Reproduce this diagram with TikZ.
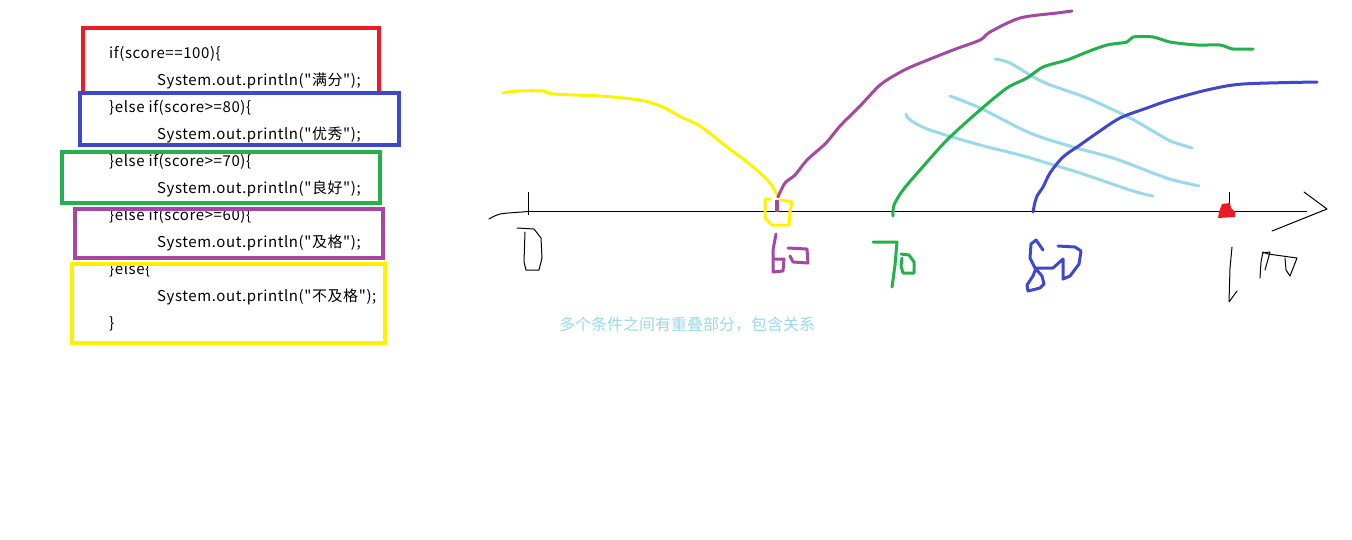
\documentclass[tikz,border=0pt]{standalone}
\usepackage{fontspec}
\newfontfamily\cjkfont{Noto Sans CJK SC}
\newfontfamily\codefont{Noto Sans CJK SC}[LetterSpace=4]
\definecolor{pred}{HTML}{ED1C24}
\definecolor{pblue}{HTML}{3F48CC}
\definecolor{pgreen}{HTML}{22B14C}
\definecolor{ppurple}{HTML}{A349A4}
\definecolor{pyellow}{HTML}{FFF200}
\definecolor{plight}{HTML}{99D9EA}
\tikzset{
  code/.style={anchor=base west, inner sep=0pt, font=\codefont\fontsize{15}{17}\selectfont},
  frame/.style={line width=4pt},
  pen/.style={line width=3pt, line join=round, line cap=round},
  thin/.style={line width=1pt, line join=round, line cap=round},
}
\begin{document}
\begin{tikzpicture}[x=1pt,y=-1pt]
\useasboundingbox (0,0) rectangle (1352,539);
% code text
\node[code] (l1) at (109,58) {if(score==100)\{};
\node[code] (l2) at (157,85) {System.out.println("满分");};
\node[code] (l3) at (109,112) {\}else if(score>=80)\{};
\node[code] (l4) at (157,139) {System.out.println("优秀");};
\node[code] (l5) at (109,166) {\}else if(score>=70)\{};
\node[code] (l6) at (157,193) {System.out.println("良好");};
\node[code] (l7) at (109,220) {\}else if(score>=60)\{};
\node[code] (l8) at (157,247) {System.out.println("及格");};
\node[code] (l9) at (109,274) {\}else\{};
\node[code] (l10) at (157,301) {System.out.println("不及格");};
\node[code] (l11) at (109,328) {\}};
% frames
\draw[frame, pred] (83,93) -- (83,28) -- (379,28) -- (379,93);
\draw[frame, pblue] (80,93) rectangle (399,145);
\draw[frame, pgreen] (62,152) rectangle (380,203);
\draw[frame, ppurple] (75,209) rectangle (383,258);
\draw[frame, pyellow] (72,264) rectangle (385,343);
% axis
\draw[thin] plot[smooth] coordinates {(489,219) (500,214) (522,212) (528,211.5)};
\draw[line width=1pt] (528,211.5) -- (1307,211.5);
\draw[thin] (1304,192) -- (1327,209) -- (1272,231);
\draw[line width=1pt] (528,192) -- (528,215);
\draw[line width=1pt] (1229,192) -- (1229,211);
\fill[pred] (1222,204) -- (1230,203) -- (1231,208) -- (1235,212) -- (1235,217) -- (1218,218) -- (1219,212) -- cycle;
% yellow selection around 60
\draw[pen, pyellow] (770,199) -- (765,199) -- (765,218) -- (772,225) -- (789,225) -- (790,212) -- (792,202) -- (781,200);
% purple mark at 60
\draw[line width=4pt, ppurple] (777,200) -- (777,212);
% curves
\draw[pen, pyellow] plot[smooth] coordinates {(503,93) (517,91) (543,91) (553,94) (600,96) (623,98) (645,101) (665,108) (681,117) (700,126) (727,147) (752,166) (770,183) (778,197)};
\draw[pen, ppurple] plot[smooth] coordinates {(778,197) (785,183) (795,175) (807,160) (826,143) (840,126) (860,106) (880,85) (897,74) (913,66) (953,50) (980,40) (990,32) (1020,18) (1057,13) (1072,11)};
\draw[pen, plight] plot[smooth] coordinates {(995,59) (1010,63) (1043,82) (1087,98) (1130,118) (1163,137) (1173,142) (1192,148)};
\draw[pen, plight] plot[smooth] coordinates {(950,96) (980,108) (1030,133) (1073,147) (1113,158) (1153,173) (1173,180) (1199,186)};
\draw[pen, plight] plot[smooth] coordinates {(906,114) (910,120) (930,130) (980,145) (1020,155) (1047,163) (1080,173) (1133,191) (1153,196)};
\draw[pen, pgreen] plot[smooth] coordinates {(893,216) (894,205) (903,190) (920,170) (947,140) (980,110) (1007,88) (1027,78) (1043,67) (1067,60) (1087,52) (1107,45) (1127,42) (1133,37) (1153,37) (1170,42) (1197,45) (1220,45) (1233,49) (1253,49)};
\draw[pen, pblue] plot[smooth] coordinates {(1033,212) (1035,202) (1037,196) (1043,187) (1050,173) (1063,157) (1080,145) (1097,133) (1120,118) (1147,108) (1170,100) (1207,90) (1243,84) (1317,82)};
% handwritten labels
\draw[thin] (517,228) -- (534,229) -- (541,238) -- (542,258) -- (539,270) -- (526,270) -- (524,262) -- (525,232);
\draw[pen, ppurple] (776,234) -- (773,250) -- (773,272) -- (783,271) -- (784,259) -- (775,259);
\draw[pen, ppurple] (788,248) -- (807,249) -- (808,263) -- (793,262) -- (790,256);
\draw[pen, pgreen] (873,242) -- (897,242) -- (895,265) -- (892,287);
\draw[pen, pgreen] (901,254) -- (909,255) -- (914,262) -- (914,273) -- (903,273) -- (901,266) -- (902,258);
\draw[pen, pblue] (1043,250) -- (1036,240) -- (1031,244) -- (1030,258) -- (1035,268) -- (1042,276) -- (1044,284) -- (1040,288) -- (1028,291) -- (1027,285) -- (1033,276) -- (1036,268) -- (1053,268) -- (1063,259) -- (1063,279) -- (1070,276) -- (1079,264) -- (1081,251) -- (1075,247) -- (1058,246);
\draw[thin] (1232,247) -- (1230,268) -- (1229,302) -- (1237,291);
\draw[thin] (1260,278) -- (1261,262) -- (1263,252) -- (1268,254) -- (1297,258) -- (1290,276) -- (1286,270) -- (1285,258);
\draw[thin] (1262,253) -- (1270,252) -- (1265,270);
% note
\node[anchor=west, inner sep=0pt, text=plight, font=\cjkfont\fontsize{16}{18}\selectfont] (note) at (559,325) {多个条件之间有重叠部分，包含关系};
\end{tikzpicture}
\end{document}
